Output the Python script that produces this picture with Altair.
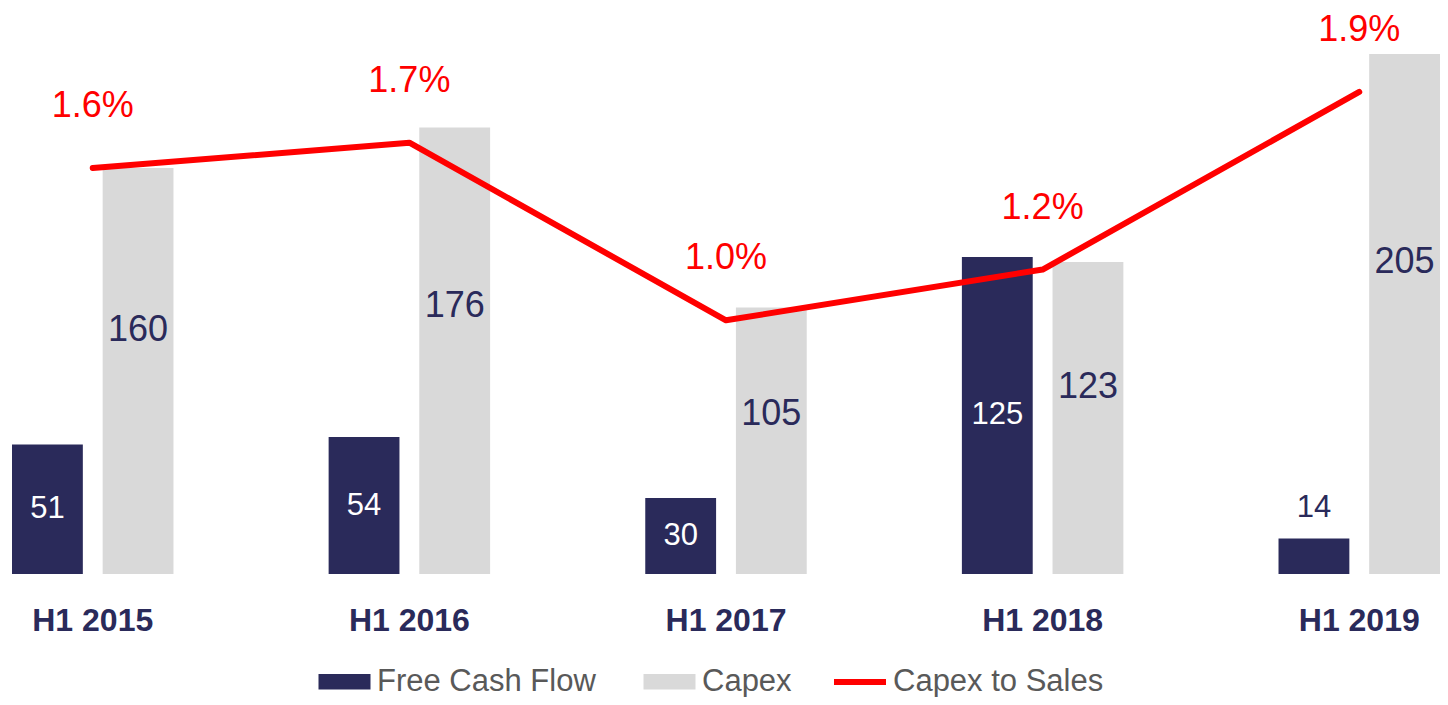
import altair as alt
import pandas as pd

# ---- data ----
categories = ["H1 2015", "H1 2016", "H1 2017", "H1 2018", "H1 2019"]
free_cash_flow = [51, 54, 30, 125, 14]
capex = [160, 176, 105, 123, 205]
capex_to_sales = [1.6, 1.7, 1.0, 1.2, 1.9]

series_names = ["Free Cash Flow", "Capex"]
line_name = "Capex to Sales"

NAVY = "#2A2A5A"
GRAY = "#D9D9D9"
RED = "#FF0000"
LEGEND_GRAY = "#595959"
FONT = "Liberation Sans"

bars_df = pd.DataFrame({
    "category": categories * 2,
    "series": [series_names[0]] * len(categories) + [series_names[1]] * len(categories),
    "value": free_cash_flow + capex,
})
line_df = pd.DataFrame({
    "category": categories,
    "ratio": capex_to_sales,
    "series": [line_name] * len(categories),
})

BAR_MAX = 223.1
RATIO_MAX = BAR_MAX / 100.0

x_enc = alt.X(
    "category:N",
    sort=categories,
    scale=alt.Scale(range=[4, 1432], paddingInner=0.49, paddingOuter=0),
    axis=alt.Axis(
        title=None, domain=False, ticks=False, tickSize=0, labelAngle=0,
        labelFontSize=32, labelFontWeight="bold", labelColor=NAVY,
        labelPadding=31, labelFont=FONT,
    ),
)
x_off = alt.XOffset(
    "series:N",
    sort=series_names,
    scale=alt.Scale(domain=series_names, paddingInner=0.2186, paddingOuter=0),
)


def y_bar(field):
    return alt.Y(f"{field}:Q", scale=alt.Scale(domain=[0, BAR_MAX], nice=False, zero=True), axis=None)


legend_common = dict(
    title=None, orient="none", direction="horizontal", padding=0,
    symbolSize=676, labelFontSize=31, labelColor=LEGEND_GRAY, labelFont=FONT,
    labelOffset=17, labelLimit=400,
)

bars = alt.Chart(bars_df).mark_bar(clip=True).encode(
    x=x_enc,
    xOffset=x_off,
    y=y_bar("value"),
    color=alt.Color(
        "series:N",
        sort=series_names,
        scale=alt.Scale(domain=series_names, range=[NAVY, GRAY]),
        legend=alt.Legend(
            legendX=321, legendY=658,
            symbolType="M-2,-0.6H2V0.6H-2Z", symbolStrokeWidth=0,
            columnPadding=47,
            **legend_common,
        ),
    ),
)

capex_text = alt.Chart(bars_df).transform_filter(
    alt.datum.series == "Capex"
).transform_calculate(
    pos="datum.value * 0.6"
).mark_text(fontSize=36, color=NAVY, baseline="middle", clip=True, font=FONT).encode(
    x=x_enc,
    xOffset=x_off,
    y=y_bar("pos"),
    text=alt.Text("value:Q"),
)

fcf_text = alt.Chart(bars_df).transform_filter(
    alt.datum.series == "Free Cash Flow"
).transform_calculate(
    pos="datum.value < 20 ? datum.value + 12 : datum.value * 0.5"
).mark_text(fontSize=31, baseline="middle", font=FONT).encode(
    x=x_enc,
    xOffset=x_off,
    y=y_bar("pos"),
    text=alt.Text("value:Q"),
    color=alt.condition(alt.datum.value < 20, alt.value(NAVY), alt.value("white")),
)

y_line = alt.Y("ratio:Q", scale=alt.Scale(domain=[0, RATIO_MAX], nice=False, zero=True), axis=None)

line = alt.Chart(line_df).mark_line(strokeWidth=6, strokeCap="round", strokeJoin="round").encode(
    x=x_enc,
    y=y_line,
    color=alt.Color(
        "series:N",
        scale=alt.Scale(domain=[line_name], range=[RED]),
        legend=alt.Legend(
            legendX=836, legendY=658,
            symbolType="M-2,0H2", symbolStrokeWidth=6,
            **legend_common,
        ),
    ),
)

line_text = alt.Chart(line_df).transform_calculate(
    label="format(datum.ratio, '.1f') + '%'"
).mark_text(fontSize=36, color=RED, baseline="middle", dy=-62, font=FONT).encode(
    x=x_enc,
    y=y_line,
    text=alt.Text("label:N"),
)

chart = alt.layer(bars, capex_text, fcf_text, line, line_text).resolve_scale(
    y="independent", color="independent"
).properties(
    width=1432, height=566, padding=0, background="white"
).configure(
    font=FONT
).configure_view(
    stroke=None
)

chart.save("out.html", embed_options={"renderer": "svg", "actions": False})
